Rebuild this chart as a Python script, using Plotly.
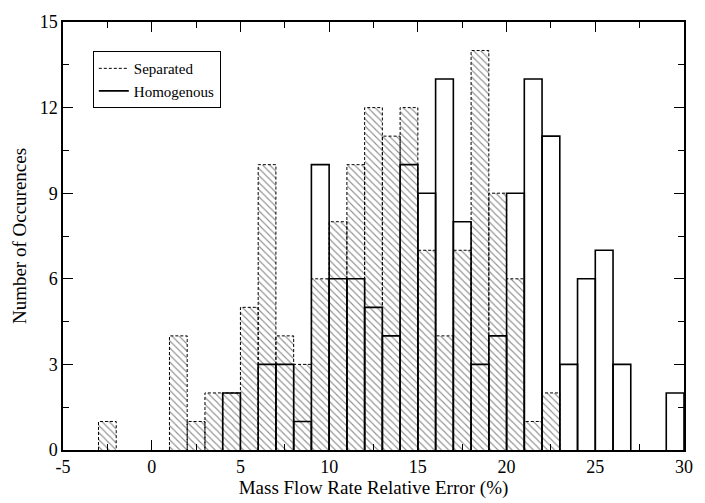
import plotly.graph_objects as go

# Bin left edges (bin width = 1 %)
sep_edges = [-3, 1, 2, 3, 4, 5, 6, 7, 8, 9, 10, 11, 12, 13, 14, 15, 16, 17, 18, 19, 20, 21, 22]
sep_counts = [1, 4, 1, 2, 2, 5, 10, 4, 3, 6, 8, 10, 12, 11, 12, 7, 4, 7, 14, 9, 6, 1, 2]

hom_edges = [4, 6, 7, 8, 9, 10, 11, 12, 13, 14, 15, 16, 17, 18, 19, 20, 21, 22, 23, 24, 25, 26, 29]
hom_counts = [2, 3, 3, 1, 10, 6, 6, 5, 4, 10, 9, 13, 8, 3, 4, 9, 13, 11, 3, 6, 7, 3, 2]

x_tickvals = [-5, 0, 5, 10, 15, 20, 25, 30]
x_ticktext = ["-5", "0", "5", "10", "15", "20", "25", "30"]
y_tickvals = [0, 3, 6, 9, 12, 15]
y_ticktext = ["0", "3", "6", "9", "12", "15"]

BIN_W = 1.0
FONT = "Liberation Serif"


def outline(edges, counts):
    xs, ys = [], []
    for e, c in zip(edges, counts):
        xs += [e, e, e + BIN_W, e + BIN_W, None]
        ys += [0, c, c, 0, None]
    return xs, ys


fig = go.Figure()

# hatched fill for separated
fig.add_trace(go.Bar(
    x=[e + BIN_W / 2 for e in sep_edges], y=sep_counts, width=BIN_W,
    marker=dict(color="white", line=dict(width=0),
                pattern=dict(shape="\\", fgcolor="#222222", bgcolor="white",
                             size=5, solidity=0.22)),
    showlegend=False, hoverinfo="skip"))

sx, sy = outline(sep_edges, sep_counts)
fig.add_trace(go.Scatter(x=sx, y=sy, mode="lines", name="Separated",
                         line=dict(color="black", width=1, dash="3px,2px")))

hx, hy = outline(hom_edges, hom_counts)
fig.add_trace(go.Scatter(x=hx, y=hy, mode="lines", name="Homogenous",
                         line=dict(color="black", width=1.6)))

axis_common = dict(showline=True, linecolor="black", linewidth=1.5, mirror="allticks",
                   ticks="inside", ticklen=10, tickwidth=1, tickcolor="black",
                   showgrid=False, zeroline=False,
                   tickfont=dict(family=FONT, size=18, color="black"))

fig.update_xaxes(range=[-5, 30], tickmode="array", tickvals=x_tickvals, ticktext=x_ticktext,
                 minor=dict(dtick=2.5, tick0=0, ticks="inside", ticklen=6, tickcolor="black"),
                 title=dict(text="Mass Flow Rate Relative Error (%)",
                            font=dict(family=FONT, size=19, color="black"), standoff=0),
                 **axis_common)
fig.update_yaxes(range=[0, 15], tickmode="array", tickvals=y_tickvals, ticktext=y_ticktext,
                 minor=dict(dtick=1.5, tick0=0, ticks="inside", ticklen=6, tickcolor="black"),
                 title=dict(text="Number of Occurences",
                            font=dict(family=FONT, size=19, color="black"), standoff=8),
                 **axis_common)

fig.update_layout(
    width=705, height=503,
    margin=dict(l=63, r=13, t=13, b=50),
    paper_bgcolor="white", plot_bgcolor="white",
    barmode="overlay", bargap=0,
    font=dict(family=FONT, color="black"),
    legend=dict(x=0.048, y=0.932, xanchor="left", yanchor="top",
                bordercolor="black", borderwidth=1, bgcolor="white",
                font=dict(family=FONT, size=15, color="black"),
                tracegroupgap=0, itemwidth=30),
)

fig.write_html("out.html")
